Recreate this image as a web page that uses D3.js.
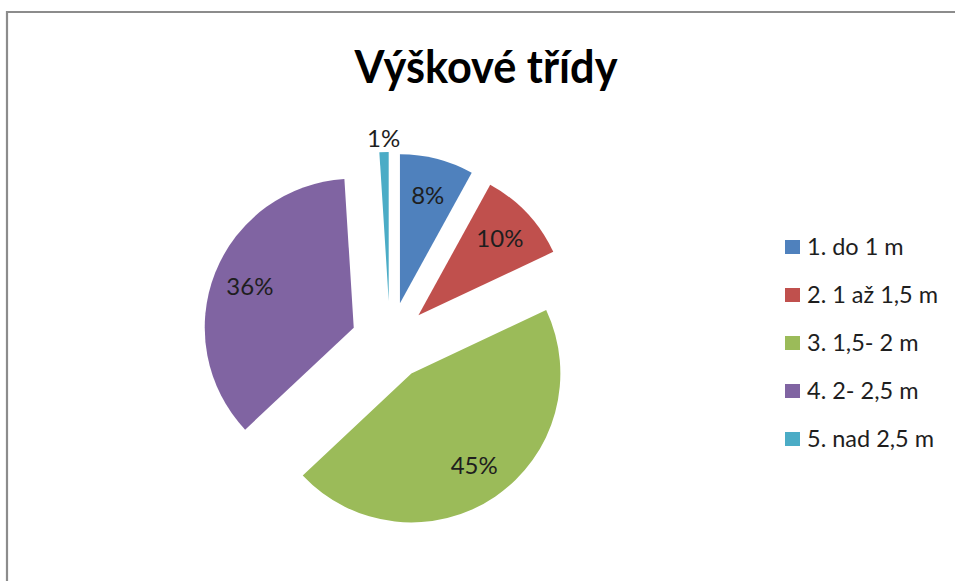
<!DOCTYPE html>
<html>
<head>
<meta charset="utf-8">
<script src="https://cdn.jsdelivr.net/npm/d3@7"></script>
<style>
  html, body { margin: 0; padding: 0; background: #fff; }
  svg { display: block; }
</style>
</head>
<body>
<svg id="chart" width="955" height="581"></svg>
<script>
// Height classes and their shares (%)
const categories = ["1. do 1 m", "2. 1 až 1,5 m", "3. 1,5- 2 m", "4. 2- 2,5 m", "5. nad 2,5 m"];
const shares = [8, 10, 45, 36, 1];
const sliceColors = ["#4F81BD", "#C0504D", "#9BBB59", "#8064A2", "#4BACC6"];
// how far each slice is pulled out of the pie, in px
const explode = [40, 39, 38, 39, 41];
const title = "Výškové třídy";

const W = 955, H = 581;
const svg = d3.select("#chart");

svg.append("rect").attr("width", W).attr("height", H).attr("fill", "#fff");

// chart area frame (runs off the right and bottom edges)
svg.append("path")
  .attr("d", `M7,${H + 5} V12 H${W + 5}`)
  .attr("fill", "none")
  .attr("stroke", "#8c8c8c")
  .attr("stroke-width", 2.2);

// title
svg.append("text")
  .attr("x", 486).attr("y", 83)
  .attr("text-anchor", "middle")
  .attr("font-family", "Lato, 'Open Sans', sans-serif")
  .attr("font-weight", 700)
  .attr("font-size", 46)
  .attr("textLength", 263)
  .attr("lengthAdjust", "spacingAndGlyphs")
  .attr("fill", "#000")
  .text(title);

// pie
const cx = 390, cy = 342, R = 149;
const pie = d3.pie().sort(null).value(d => d.v);
const arcs = pie(shares.map((v, i) => ({ v, i })));
const arc = d3.arc().innerRadius(0).outerRadius(R);
const labelArc = d3.arc().innerRadius(R * 0.75).outerRadius(R * 0.75);
const outerLabelArc = d3.arc().innerRadius(R + 14).outerRadius(R + 14);

const g = svg.append("g").attr("transform", `translate(${cx},${cy})`);

const slice = g.selectAll("g.slice")
  .data(arcs)
  .join("g")
  .attr("class", "slice")
  .attr("transform", d => {
    const mid = (d.startAngle + d.endAngle) / 2;
    const e = explode[d.index];
    return `translate(${e * Math.sin(mid)},${-e * Math.cos(mid)})`;
  });

slice.append("path")
  .attr("d", arc)
  .attr("fill", d => sliceColors[d.index]);

slice.append("text")
  .attr("transform", d => {
    const small = (d.endAngle - d.startAngle) < 0.05 * 2 * Math.PI;
    const p = small ? outerLabelArc.centroid(d) : labelArc.centroid(d);
    return `translate(${p[0]},${p[1]})`;
  })
  .attr("text-anchor", "middle")
  .attr("dy", "0.36em")
  .attr("font-family", "Lato, 'Open Sans', sans-serif")
  .attr("font-size", 24)
  .attr("fill", "#1e1e1e")
  .text(d => d.data.v + "%");

// legend
const legendY = d3.scaleBand().domain(categories).range([223, 463]);
const legend = svg.append("g");
const item = legend.selectAll("g")
  .data(categories)
  .join("g")
  .attr("transform", d => `translate(785,${legendY(d) + legendY.bandwidth() / 2})`);

item.append("rect")
  .attr("x", 0).attr("y", -7)
  .attr("width", 15).attr("height", 14)
  .attr("fill", (d, i) => sliceColors[i]);

item.append("text")
  .attr("x", 22)
  .attr("dy", "0.36em")
  .attr("font-family", "Lato, 'Open Sans', sans-serif")
  .attr("font-size", 23.5)
  .attr("fill", "#1e1e1e")
  .text(d => d);
</script>
</body>
</html>
